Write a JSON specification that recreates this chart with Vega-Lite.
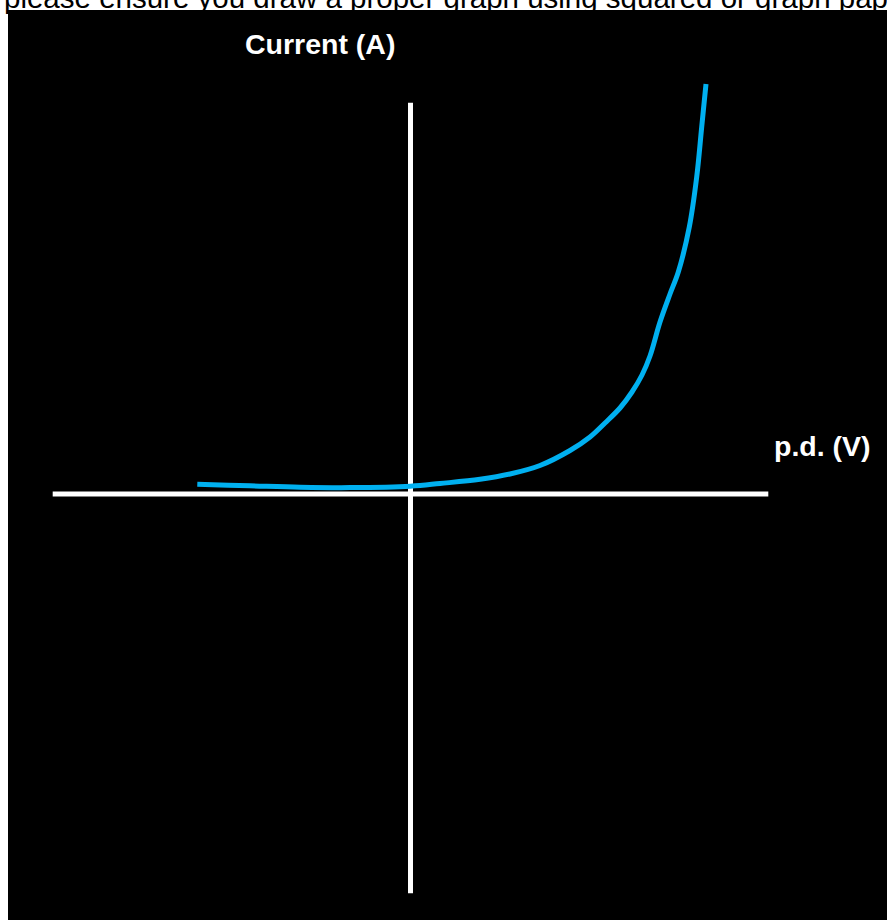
{
  "$schema": "https://vega.github.io/schema/vega-lite/v6.json",
  "width": 887,
  "height": 920,
  "autosize": "none",
  "padding": 0,
  "background": "white",
  "config": {"view": {"stroke": null}},
  "datasets": {
    "panel": [{"x": -8.05, "x2": 9.53, "y": 9.68, "y2": -8.52}],
    "axes": [
      {"name": "pd", "x": -7.156, "x2": 7.156, "y": 0, "y2": 0},
      {"name": "current", "x": 0, "x2": 0, "y": 7.826, "y2": -7.986}
    ],
    "curve": [
      {"V": -4.264, "I": 0.194},
      {"V": -3.21, "I": 0.164},
      {"V": -2.21, "I": 0.136},
      {"V": -1.21, "I": 0.128},
      {"V": 0, "I": 0.156},
      {"V": 0.59, "I": 0.21},
      {"V": 1.39, "I": 0.294},
      {"V": 1.99, "I": 0.4},
      {"V": 2.59, "I": 0.57},
      {"V": 3.19, "I": 0.87},
      {"V": 3.59, "I": 1.14},
      {"V": 3.89, "I": 1.42},
      {"V": 4.19, "I": 1.72},
      {"V": 4.43, "I": 2.04},
      {"V": 4.63, "I": 2.38},
      {"V": 4.79, "I": 2.76},
      {"V": 4.99, "I": 3.44},
      {"V": 5.19, "I": 4.0},
      {"V": 5.356, "I": 4.44},
      {"V": 5.576, "I": 5.34},
      {"V": 5.724, "I": 6.34},
      {"V": 5.824, "I": 7.34},
      {"V": 5.91, "I": 8.2}
    ],
    "labels": [
      {"x": -3.31, "y": 8.806, "text": "Current (A)"},
      {"x": 7.27, "y": 0.752, "text": "p.d. (V)"}
    ],
    "note": [{"x": -8.13, "y": 9.72, "text": "please ensure you draw a proper graph using squared or graph paper"}]
  },
  "layer": [
    {
      "data": {"name": "note"},
      "mark": {"type": "text", "align": "left", "baseline": "alphabetic", "font": "Liberation Sans", "fontSize": 29.5, "color": "black"},
      "encoding": {
        "x": {"field": "x", "type": "quantitative", "scale": {"domain": [-8.21, 9.53], "nice": false, "zero": false}, "axis": null},
        "y": {"field": "y", "type": "quantitative", "scale": {"domain": [-8.52, 9.88], "nice": false, "zero": false}, "axis": null},
        "text": {"field": "text"}
      }
    },
    {
      "data": {"name": "panel"},
      "mark": {"type": "rect", "color": "black"},
      "encoding": {
        "x": {"field": "x", "type": "quantitative"},
        "x2": {"field": "x2"},
        "y": {"field": "y", "type": "quantitative"},
        "y2": {"field": "y2"}
      }
    },
    {
      "data": {"name": "axes"},
      "mark": {"type": "rule", "color": "white", "strokeWidth": 5, "strokeCap": "butt"},
      "encoding": {
        "x": {"field": "x", "type": "quantitative"},
        "x2": {"field": "x2"},
        "y": {"field": "y", "type": "quantitative"},
        "y2": {"field": "y2"}
      }
    },
    {
      "data": {"name": "curve"},
      "mark": {"type": "line", "color": "#00B0F0", "strokeWidth": 5, "strokeCap": "butt", "interpolate": "catmull-rom"},
      "encoding": {
        "x": {"field": "V", "type": "quantitative"},
        "y": {"field": "I", "type": "quantitative"}
      }
    },
    {
      "data": {"name": "labels"},
      "mark": {"type": "text", "align": "left", "baseline": "alphabetic", "font": "Liberation Sans", "fontSize": 28.5, "fontWeight": "bold", "color": "white"},
      "encoding": {
        "x": {"field": "x", "type": "quantitative"},
        "y": {"field": "y", "type": "quantitative"},
        "text": {"field": "text"}
      }
    }
  ]
}
